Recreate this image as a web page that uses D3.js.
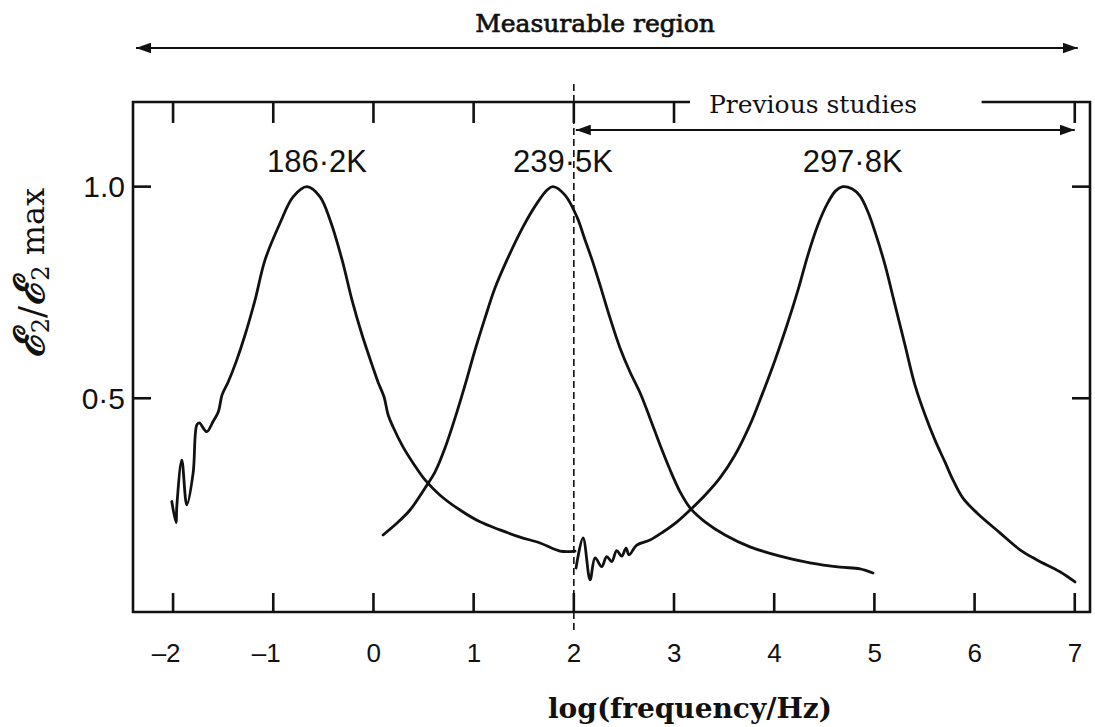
<!DOCTYPE html>
<html>
<head>
<meta charset="utf-8">
<script src="https://cdn.jsdelivr.net/npm/d3@7"></script>
<style>
  body { margin: 0; background: #fff; }
  svg { display: block; }
</style>
</head>
<body>
<svg id="chart" width="1095" height="727"></svg>
<script>
// Normalised dielectric loss e2/e2max against log(frequency/Hz), three temperatures
const curve186K = [
  [-2.013, 0.256], [-1.970, 0.206], [-1.963, 0.244], [-1.913, 0.354], [-1.863, 0.248],
  [-1.800, 0.323], [-1.763, 0.437], [-1.738, 0.442], [-1.664, 0.421], [-1.601, 0.445],
  [-1.548, 0.468], [-1.511, 0.508], [-1.451, 0.538], [-1.371, 0.586], [-1.281, 0.650],
  [-1.182, 0.732], [-1.082, 0.827], [-0.932, 0.914], [-0.802, 0.976], [-0.663, 1.000],
  [-0.533, 0.976], [-0.433, 0.921], [-0.313, 0.827], [-0.214, 0.732], [-0.114, 0.650],
  [-0.014, 0.579], [0.046, 0.538], [0.106, 0.503], [0.146, 0.461], [0.196, 0.432],
  [0.295, 0.385], [0.395, 0.347], [0.515, 0.307], [0.665, 0.271], [0.864, 0.236],
  [1.064, 0.208], [1.263, 0.189], [1.463, 0.172], [1.663, 0.158], [1.862, 0.139],
  [2.012, 0.139]
];

const curve239K = [
  [0.096, 0.177], [0.216, 0.201], [0.365, 0.236], [0.515, 0.288], [0.615, 0.326],
  [0.715, 0.383], [0.814, 0.453], [0.914, 0.531], [1.014, 0.614], [1.114, 0.690],
  [1.214, 0.761], [1.333, 0.827], [1.493, 0.905], [1.633, 0.961], [1.733, 0.992],
  [1.792, 1.000], [1.912, 0.980], [2.032, 0.928], [2.112, 0.874], [2.182, 0.827],
  [2.261, 0.768], [2.361, 0.690], [2.461, 0.619], [2.561, 0.562], [2.661, 0.513],
  [2.760, 0.453], [2.860, 0.390], [2.960, 0.331], [3.060, 0.279], [3.160, 0.241],
  [3.309, 0.208], [3.509, 0.177], [3.758, 0.149], [4.058, 0.127], [4.357, 0.111],
  [4.657, 0.101], [4.856, 0.097], [4.986, 0.087]
];

const curve297K = [
  [2.022, 0.099], [2.092, 0.170], [2.162, 0.071], [2.212, 0.123], [2.278, 0.102],
  [2.328, 0.126], [2.378, 0.114], [2.428, 0.140], [2.478, 0.127], [2.521, 0.146],
  [2.551, 0.130], [2.628, 0.153], [2.760, 0.165], [2.890, 0.184], [3.030, 0.208],
  [3.160, 0.236], [3.309, 0.271], [3.459, 0.312], [3.609, 0.366], [3.758, 0.437],
  [3.878, 0.508], [4.008, 0.590], [4.128, 0.673], [4.238, 0.756], [4.337, 0.839],
  [4.437, 0.910], [4.533, 0.961], [4.613, 0.990], [4.683, 1.000], [4.776, 0.995],
  [4.856, 0.978], [4.936, 0.940], [5.016, 0.886], [5.106, 0.815], [5.206, 0.720],
  [5.305, 0.626], [5.405, 0.531], [5.505, 0.461], [5.605, 0.401], [5.705, 0.349],
  [5.784, 0.307], [5.884, 0.264], [6.024, 0.229], [6.253, 0.182], [6.453, 0.142],
  [6.623, 0.118], [6.852, 0.090], [7.002, 0.066]
];

const seriesList = [curve186K, curve239K, curve297K];
const peakLabels = ["186·2K", "239·5K", "297·8K"];

const xTickValues = [-2, -1, 0, 1, 2, 3, 4, 5, 6, 7];
const xTickLabels = ["–2", "–1", "0", "1", "2", "3", "4", "5", "6", "7"];
const topTickValues = [-2, -1, 0, 1, 2, 3, 7];
const yTickValues = [0.5, 1.0];
const yTickLabels = ["0·5", "1.0"];

// annotation ranges in log(frequency/Hz)
const measurableRange = [-2.37, 7.03];
const previousRange = [2.02, 7.0];
const boundaryLogF = 2;
const topGap = [3.16, 6.07];

const svg = d3.select("#chart");
const plot = { left: 133, right: 1090, top: 102, bottom: 612 };

const x = d3.scaleLinear().domain([-2.4, 7.152]).range([plot.left, plot.right]);
const y = d3.scaleLinear().domain([-0.005, 1.2]).range([plot.bottom, plot.top]);

const ink = "#111";
const numFont = "'Liberation Sans', Arial, sans-serif";
const serifFont = "'DejaVu Serif', serif";

// arrowheads
const defs = svg.append("defs");
defs.append("marker")
  .attr("id", "head").attr("viewBox", "0 0 14 10")
  .attr("refX", 14).attr("refY", 5)
  .attr("markerUnits", "userSpaceOnUse")
  .attr("markerWidth", 15).attr("markerHeight", 11)
  .attr("orient", "auto-start-reverse")
  .append("path").attr("d", "M0,0 L14,5 L0,10 Z").attr("fill", ink);

// frame (top edge broken around the "Previous studies" caption)
svg.append("path")
  .attr("d",
    `M${x(topGap[0])},${plot.top} L${plot.left},${plot.top} L${plot.left},${plot.bottom} ` +
    `L${plot.right},${plot.bottom} L${plot.right},${plot.top} L${x(topGap[1])},${plot.top}`)
  .attr("fill", "none").attr("stroke", ink).attr("stroke-width", 2.6)
  .attr("stroke-linejoin", "miter");

// inward ticks on all four sides
const ticks = svg.append("g").attr("stroke", ink).attr("stroke-width", 2.6);
ticks.selectAll("line.bt").data(xTickValues).join("line").attr("class", "bt")
  .attr("x1", d => x(d)).attr("x2", d => x(d))
  .attr("y1", plot.bottom).attr("y2", plot.bottom - 19);
ticks.selectAll("line.tt").data(topTickValues).join("line").attr("class", "tt")
  .attr("x1", d => x(d)).attr("x2", d => x(d))
  .attr("y1", plot.top).attr("y2", plot.top + 21);
ticks.selectAll("line.lt").data(yTickValues).join("line").attr("class", "lt")
  .attr("x1", plot.left).attr("x2", plot.left + 18)
  .attr("y1", d => y(d)).attr("y2", d => y(d));
ticks.selectAll("line.rt").data(yTickValues).join("line").attr("class", "rt")
  .attr("x1", plot.right).attr("x2", plot.right - 18)
  .attr("y1", d => y(d)).attr("y2", d => y(d));

svg.append("g").selectAll("text").data(xTickValues).join("text")
  .attr("x", d => x(d) + 7.5).attr("y", plot.bottom + 50)
  .attr("text-anchor", "end")
  .attr("font-family", numFont).attr("font-size", 26).attr("fill", ink)
  .text((d, i) => xTickLabels[i]);

svg.append("g").selectAll("text").data(yTickValues).join("text")
  .attr("x", plot.left - 8).attr("y", d => y(d)).attr("dy", "0.36em")
  .attr("text-anchor", "end")
  .attr("font-family", numFont).attr("font-size", 30).attr("fill", ink)
  .text((d, i) => yTickLabels[i]);

// curves
const line = d3.line().x(d => x(d[0])).y(d => y(d[1])).curve(d3.curveCatmullRom.alpha(0.5));
svg.append("g").selectAll("path").data(seriesList).join("path")
  .attr("d", line).attr("fill", "none").attr("stroke", ink)
  .attr("stroke-width", 2.8).attr("stroke-linejoin", "round").attr("stroke-linecap", "round");

// temperature labels above each peak
svg.append("g").selectAll("text").data(seriesList).join("text")
  .attr("x", d => x(d3.greatest(d, p => p[1])[0]) + 10)
  .attr("y", y(1) - 15)
  .attr("text-anchor", "middle")
  .attr("font-family", numFont).attr("font-size", 31).attr("fill", ink)
  .text((d, i) => peakLabels[i]);

// boundary of previous studies
svg.append("line")
  .attr("x1", x(boundaryLogF)).attr("x2", x(boundaryLogF))
  .attr("y1", 84).attr("y2", 631)
  .attr("stroke", ink).attr("stroke-width", 1.6).attr("stroke-dasharray", "7,4");

// range arrows
svg.append("line")
  .attr("x1", x(measurableRange[0])).attr("x2", x(measurableRange[1]))
  .attr("y1", 48).attr("y2", 48)
  .attr("stroke", ink).attr("stroke-width", 2.2)
  .attr("marker-start", "url(#head)").attr("marker-end", "url(#head)");
svg.append("text")
  .attr("x", 595).attr("y", 32).attr("text-anchor", "middle")
  .attr("font-family", serifFont).attr("font-size", 25).attr("fill", ink)
  .attr("stroke", ink).attr("stroke-width", 0.7)
  .text("Measurable region");

svg.append("line")
  .attr("x1", x(previousRange[0])).attr("x2", x(previousRange[1]))
  .attr("y1", 130).attr("y2", 130)
  .attr("stroke", ink).attr("stroke-width", 2.2)
  .attr("marker-start", "url(#head)").attr("marker-end", "url(#head)");
svg.append("text")
  .attr("x", 813).attr("y", 113).attr("text-anchor", "middle")
  .attr("font-family", serifFont).attr("font-size", 25).attr("fill", ink)
  .text("Previous studies");

// axis titles
svg.append("text")
  .attr("x", 690).attr("y", 718).attr("text-anchor", "middle")
  .attr("font-family", serifFont).attr("font-weight", "bold").attr("font-size", 28).attr("fill", ink)
  .text("log(frequency/Hz)");

const yTitle = svg.append("text")
  .attr("transform", "translate(44,273) rotate(-90)")
  .attr("text-anchor", "middle")
  .attr("font-family", serifFont).attr("font-size", 32).attr("fill", ink);
yTitle.append("tspan").attr("font-weight", "bold").attr("font-style", "italic").attr("font-size", 42).text("ℰ");
yTitle.append("tspan").attr("font-size", 24).attr("dy", 5).text("2");
yTitle.append("tspan").attr("dy", -5).attr("font-size", 36).text("/");
yTitle.append("tspan").attr("font-weight", "bold").attr("font-style", "italic").attr("font-size", 42).text("ℰ");
yTitle.append("tspan").attr("font-size", 24).attr("dy", 5).text("2");
yTitle.append("tspan").attr("dy", -5).text(" max");
</script>
</body>
</html>
